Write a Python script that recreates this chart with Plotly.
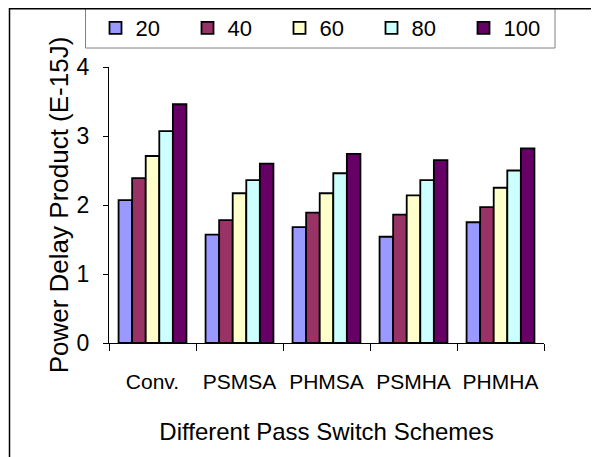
import plotly.graph_objects as go

categories = ["Conv.", "PSMSA", "PHMSA", "PSMHA", "PHMHA"]
series_names = ["20", "40", "60", "80", "100"]
values_20 = [2.07, 1.57, 1.68, 1.54, 1.75]
values_40 = [2.39, 1.78, 1.89, 1.86, 1.97]
values_60 = [2.71, 2.17, 2.17, 2.14, 2.25]
values_80 = [3.07, 2.36, 2.46, 2.36, 2.50]
values_100 = [3.46, 2.60, 2.74, 2.65, 2.82]
y_ticks = [0, 1, 2, 3, 4]

series_values = [values_20, values_40, values_60, values_80, values_100]
colors = ["#9999FF", "#993366", "#FFFFCC", "#CCFFFF", "#660066"]

W, H = 599, 457
OFF = 8  # page body margin
ML, MT = 109 - OFF, 67 - OFF
PW, PH = 435, 276
MR = W - ML - PW
MB = H - MT - PH

def px_x(p):
    # p in screenshot pixels
    return (p - OFF - ML) / PW

def px_y(p):
    return (MT + PH - (p - OFF)) / PH

sans = "Liberation Sans, Arial, sans-serif"

fig = go.Figure()
for name, vals, col in zip(series_names, series_values, colors):
    fig.add_trace(go.Bar(
        x=categories, y=vals, name=name,
        marker=dict(color=col, line=dict(color="black", width=1.8)),
    ))

fig.update_layout(
    width=W, height=H,
    margin=dict(l=ML, r=MR, t=MT, b=MB, pad=0, autoexpand=False),
    paper_bgcolor="white", plot_bgcolor="white",
    barmode="group", bargap=0.22, bargroupgap=0,
    font=dict(family=sans, size=20, color="black"),
    showlegend=True,
    legend=dict(
        orientation="h", x=px_x(95.5), y=px_y(7), xanchor="left", yanchor="top",
        borderwidth=0, bgcolor="rgba(0,0,0,0)",
        entrywidth=47, entrywidthmode="pixels",
        font=dict(family=sans, size=22),
        itemclick=False,
    ),
    xaxis=dict(
        type="category", showline=True, linecolor="black", linewidth=1,
        ticks="outside", tickson="boundaries", ticklen=7, tickcolor="black",
        ticklabelstandoff=20, showgrid=False, zeroline=False, automargin=False,
        tickangle=0,
        tickfont=dict(family=sans, size=21),
        title=dict(text="Different Pass Switch Schemes",
                   font=dict(family=sans, size=24), standoff=30),
    ),
    yaxis=dict(
        range=[0, 4], tickvals=y_ticks, showline=True, linecolor="black",
        linewidth=1, ticks="outside", ticklen=5, tickcolor="black",
        ticklabelstandoff=9, showgrid=False, zeroline=False, automargin=False,
        tickfont=dict(family=sans, size=23),
        title=dict(text="Power Delay Product (E-15J)",
                   font=dict(family=sans, size=26),
                   standoff=0),
    ),
    shapes=[
        dict(type="rect", xref="paper", yref="paper",
             x0=px_x(85.5), x1=px_x(555), y0=px_y(8.5), y1=px_y(48),
             line=dict(color="#808080", width=1), fillcolor="white", layer="below"),
        dict(type="line", xref="paper", yref="paper",
             x0=px_x(9), x1=px_x(W + 20), y0=px_y(8.75), y1=px_y(8.75),
             line=dict(color="black", width=1.5)),
        dict(type="line", xref="paper", yref="paper",
             x0=px_x(9.5), x1=px_x(9.5), y0=px_y(8), y1=px_y(H + 20),
             line=dict(color="black", width=1.5)),
    ],
)

fig.write_html("out.html")
